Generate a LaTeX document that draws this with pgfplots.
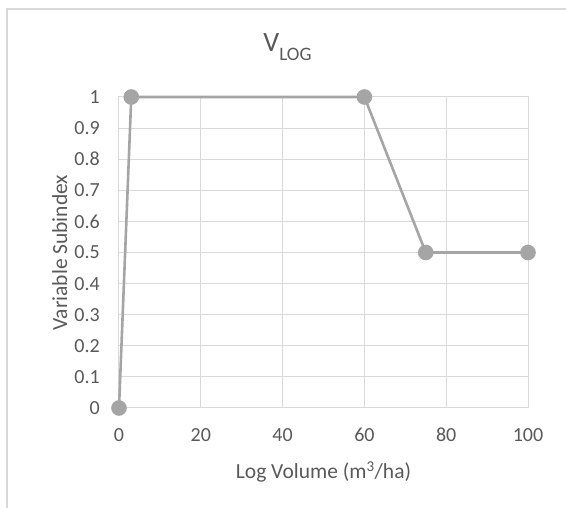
\documentclass[border=0pt]{standalone}
\usepackage{pgfplots}
\pgfplotsset{compat=1.18}
\usepackage{fontspec}
\setmainfont{Carlito}
\definecolor{txt}{HTML}{595959}
\definecolor{gridc}{HTML}{D9D9D9}
\definecolor{linec}{HTML}{A5A5A5}
\begin{document}
\begin{tikzpicture}
\useasboundingbox (0pt,0pt) rectangle (566pt,508pt);
\draw[gridc, line width=1.5pt] (7pt,0pt) -- (7pt,499pt) -- (566pt,499pt);
\begin{axis}[
  at={(119pt,100pt)}, anchor=south west,
  width=409pt, height=311pt, scale only axis,
  xmin=0, xmax=100, ymin=0, ymax=1,
  xtick={0,20,...,100},
  ytick={0,0.1,...,1.01},
  grid=major,
  major grid style={gridc, line width=1pt},
  axis line style={gridc, line width=1pt},
  tick style={draw=none},
  ticklabel style={font=\fontsize{20}{24}\selectfont, text=txt, inner sep=0pt},
  /pgf/number format/assume math mode=true,
  yticklabel style={/pgf/number format/fixed, /pgf/number format/precision=1, anchor=east, xshift=-19pt},
  xticklabel style={anchor=north, yshift=-20pt},
  xlabel={Log Volume (m\textsuperscript{3}/ha)},
  ylabel={Variable Subindex},
  label style={font=\fontsize{21.5}{25}\selectfont, text=txt, inner sep=0pt},
  xlabel style={at={(axis description cs:0.5,-0.2283)}, anchor=base},
  ylabel style={at={(axis description cs:-0.1271,0.5)}, anchor=base},
  title={V{\fontsize{19}{22}\selectfont\raisebox{-9pt}{LOG}}},
  title style={font=\fontsize{28}{32}\selectfont, text=txt, inner sep=0pt, at={(axis description cs:0.412,1.1254)}, anchor=base},
  clip=false,
]
\addplot[linec, line width=2.6pt, mark=*, mark size=6.5pt, mark options={fill=linec, draw=none}]
  coordinates {(0,0) (3,1) (60,1) (75,0.5) (100,0.5)};
\end{axis}
\end{tikzpicture}
\end{document}
